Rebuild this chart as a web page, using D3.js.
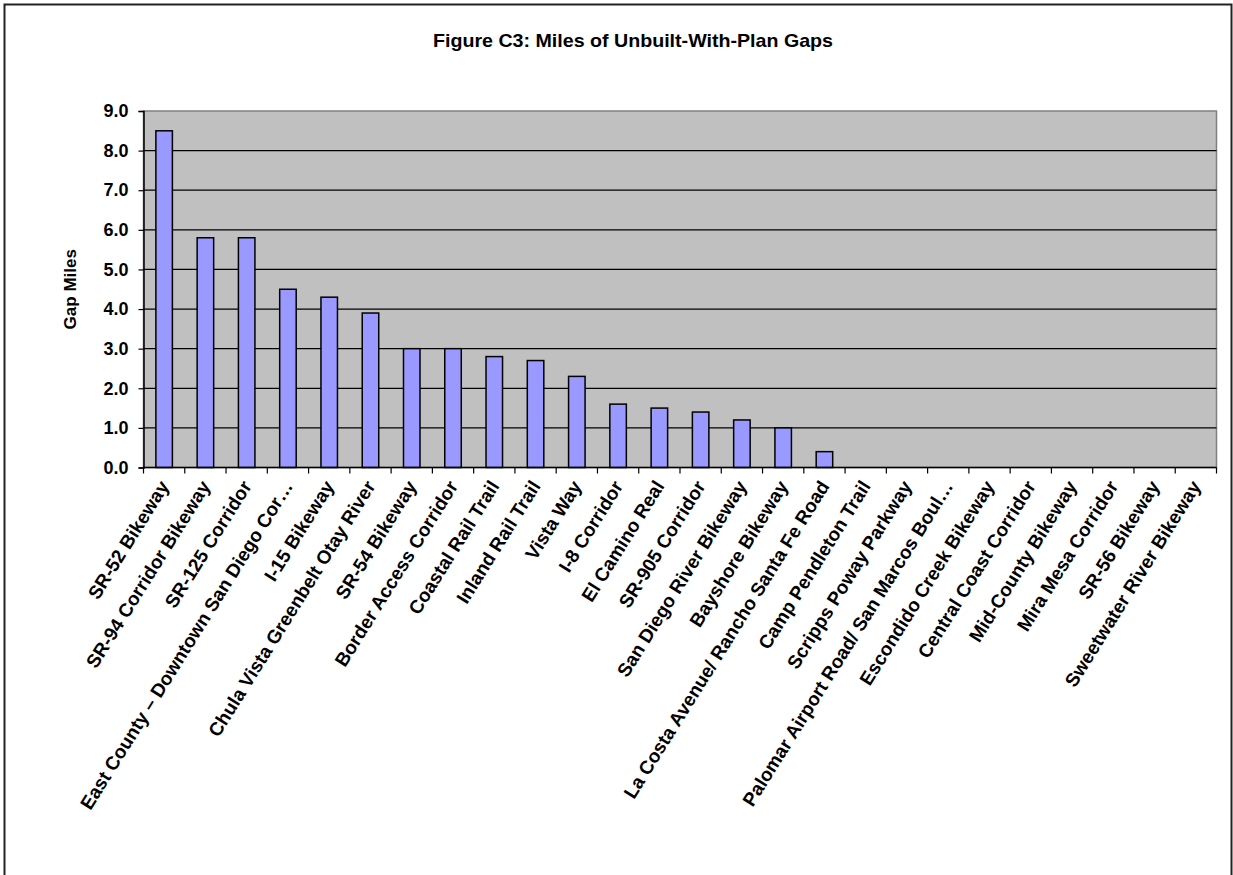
<!DOCTYPE html>
<html><head><meta charset="utf-8">
<script src="https://cdn.jsdelivr.net/npm/d3@7"></script>
<style>body{margin:0;background:#fff}svg{display:block}text{font-family:Arial,"Liberation Sans",sans-serif;font-weight:bold;fill:#000}</style>
</head><body>
<svg id="c" width="1233" height="875"></svg>
<script>
const categories = ["SR-52 Bikeway","SR-94 Corridor Bikeway","SR-125 Corridor","East County \u2013 Downtown San Diego Cor\u2026","I-15 Bikeway","Chula Vista Greenbelt Otay River","SR-54 Bikeway","Border Access Corridor","Coastal Rail Trail","Inland Rail Trail","Vista Way","I-8 Corridor","El Camino Real","SR-905 Corridor","San Diego River Bikeway","Bayshore Bikeway","La Costa Avenue/ Rancho Santa Fe Road","Camp Pendleton Trail","Scripps Poway Parkway","Palomar Airport Road/ San Marcos Boul\u2026","Escondido Creek Bikeway","Central Coast Corridor","Mid-County Bikeway","Mira Mesa Corridor","SR-56 Bikeway","Sweetwater River Bikeway"];
const gapMiles = [8.5,5.8,5.8,4.5,4.3,3.9,3.0,3.0,2.8,2.7,2.3,1.6,1.5,1.4,1.2,1.0,0.4,0,0,0,0,0,0,0,0,0];
const yTicks = [0,1,2,3,4,5,6,7,8,9];
const title = "Figure C3: Miles of Unbuilt-With-Plan Gaps";
const yTitle = "Gap Miles";

const svg = d3.select("#c");
svg.append("rect").attr("x",4.5).attr("y",4.5).attr("width",1227).attr("height",880)
  .attr("fill","#fff").attr("stroke","#222").attr("stroke-width",2);

const L=143.5, R=1216.5, T=111, B=467.5;
const xb = d3.scaleBand().domain(categories).range([L,R]);
const y = d3.scaleLinear().domain([0,9]).range([B,T]);

svg.append("rect").attr("x",L).attr("y",T).attr("width",R-L).attr("height",B-T)
  .attr("fill","#C0C0C0").attr("stroke","#808080").attr("stroke-width",1.5);

svg.append("g").selectAll("line").data(yTicks.filter(d=>d>0&&d<9)).join("line")
  .attr("x1",L).attr("x2",R).attr("y1",d=>y(d)).attr("y2",d=>y(d))
  .attr("stroke","#000").attr("stroke-width",1.2);

svg.append("g").selectAll("rect").data(categories).join("rect")
  .attr("x",(d)=>xb(d)+xb.bandwidth()*0.3)
  .attr("width",xb.bandwidth()*0.4)
  .attr("y",(d,i)=>y(gapMiles[i]))
  .attr("height",(d,i)=>B-y(gapMiles[i]))
  .attr("fill","#9999FF").attr("stroke","#000").attr("stroke-width",1.5)
  .attr("display",(d,i)=>gapMiles[i]>0?null:"none");

// y axis
const ya = svg.append("g").attr("transform",`translate(${L},0)`)
  .call(d3.axisLeft(y).tickValues(yTicks).tickFormat(d3.format(".1f")).tickSize(5).tickPadding(10));
ya.select(".domain").attr("stroke","#000").attr("stroke-width",1.5);
ya.selectAll(".tick line").attr("stroke","#000").attr("stroke-width",1.2);
ya.selectAll("text").attr("font-size",18).attr("font-weight","bold").attr("font-family","Arial, Liberation Sans, sans-serif").attr("fill","#000");

// x axis
const boundaries = categories.map(c=>xb(c)).concat([R]);
svg.append("line").attr("x1",L).attr("x2",R).attr("y1",B).attr("y2",B).attr("stroke","#000").attr("stroke-width",1.5);
svg.append("g").selectAll("line").data(boundaries).join("line")
  .attr("x1",d=>d).attr("x2",d=>d).attr("y1",B).attr("y2",B+6).attr("stroke","#000").attr("stroke-width",1.2);

svg.append("g").selectAll("text").data(categories).join("text")
  .attr("transform",d=>`translate(${xb(d)+xb.bandwidth()/2},${B+15}) rotate(-58)`)
  .attr("text-anchor","end").attr("dy","0.35em").attr("font-size",19).text(d=>d);

svg.append("text").attr("x",633).attr("y",47).attr("text-anchor","middle").attr("font-size",19)
  .attr("textLength",400).attr("lengthAdjust","spacingAndGlyphs").text(title);
svg.append("text").attr("transform",`translate(76,${(T+B)/2}) rotate(-90)`).attr("text-anchor","middle").attr("font-size",17).text(yTitle);
</script>
</body></html>
